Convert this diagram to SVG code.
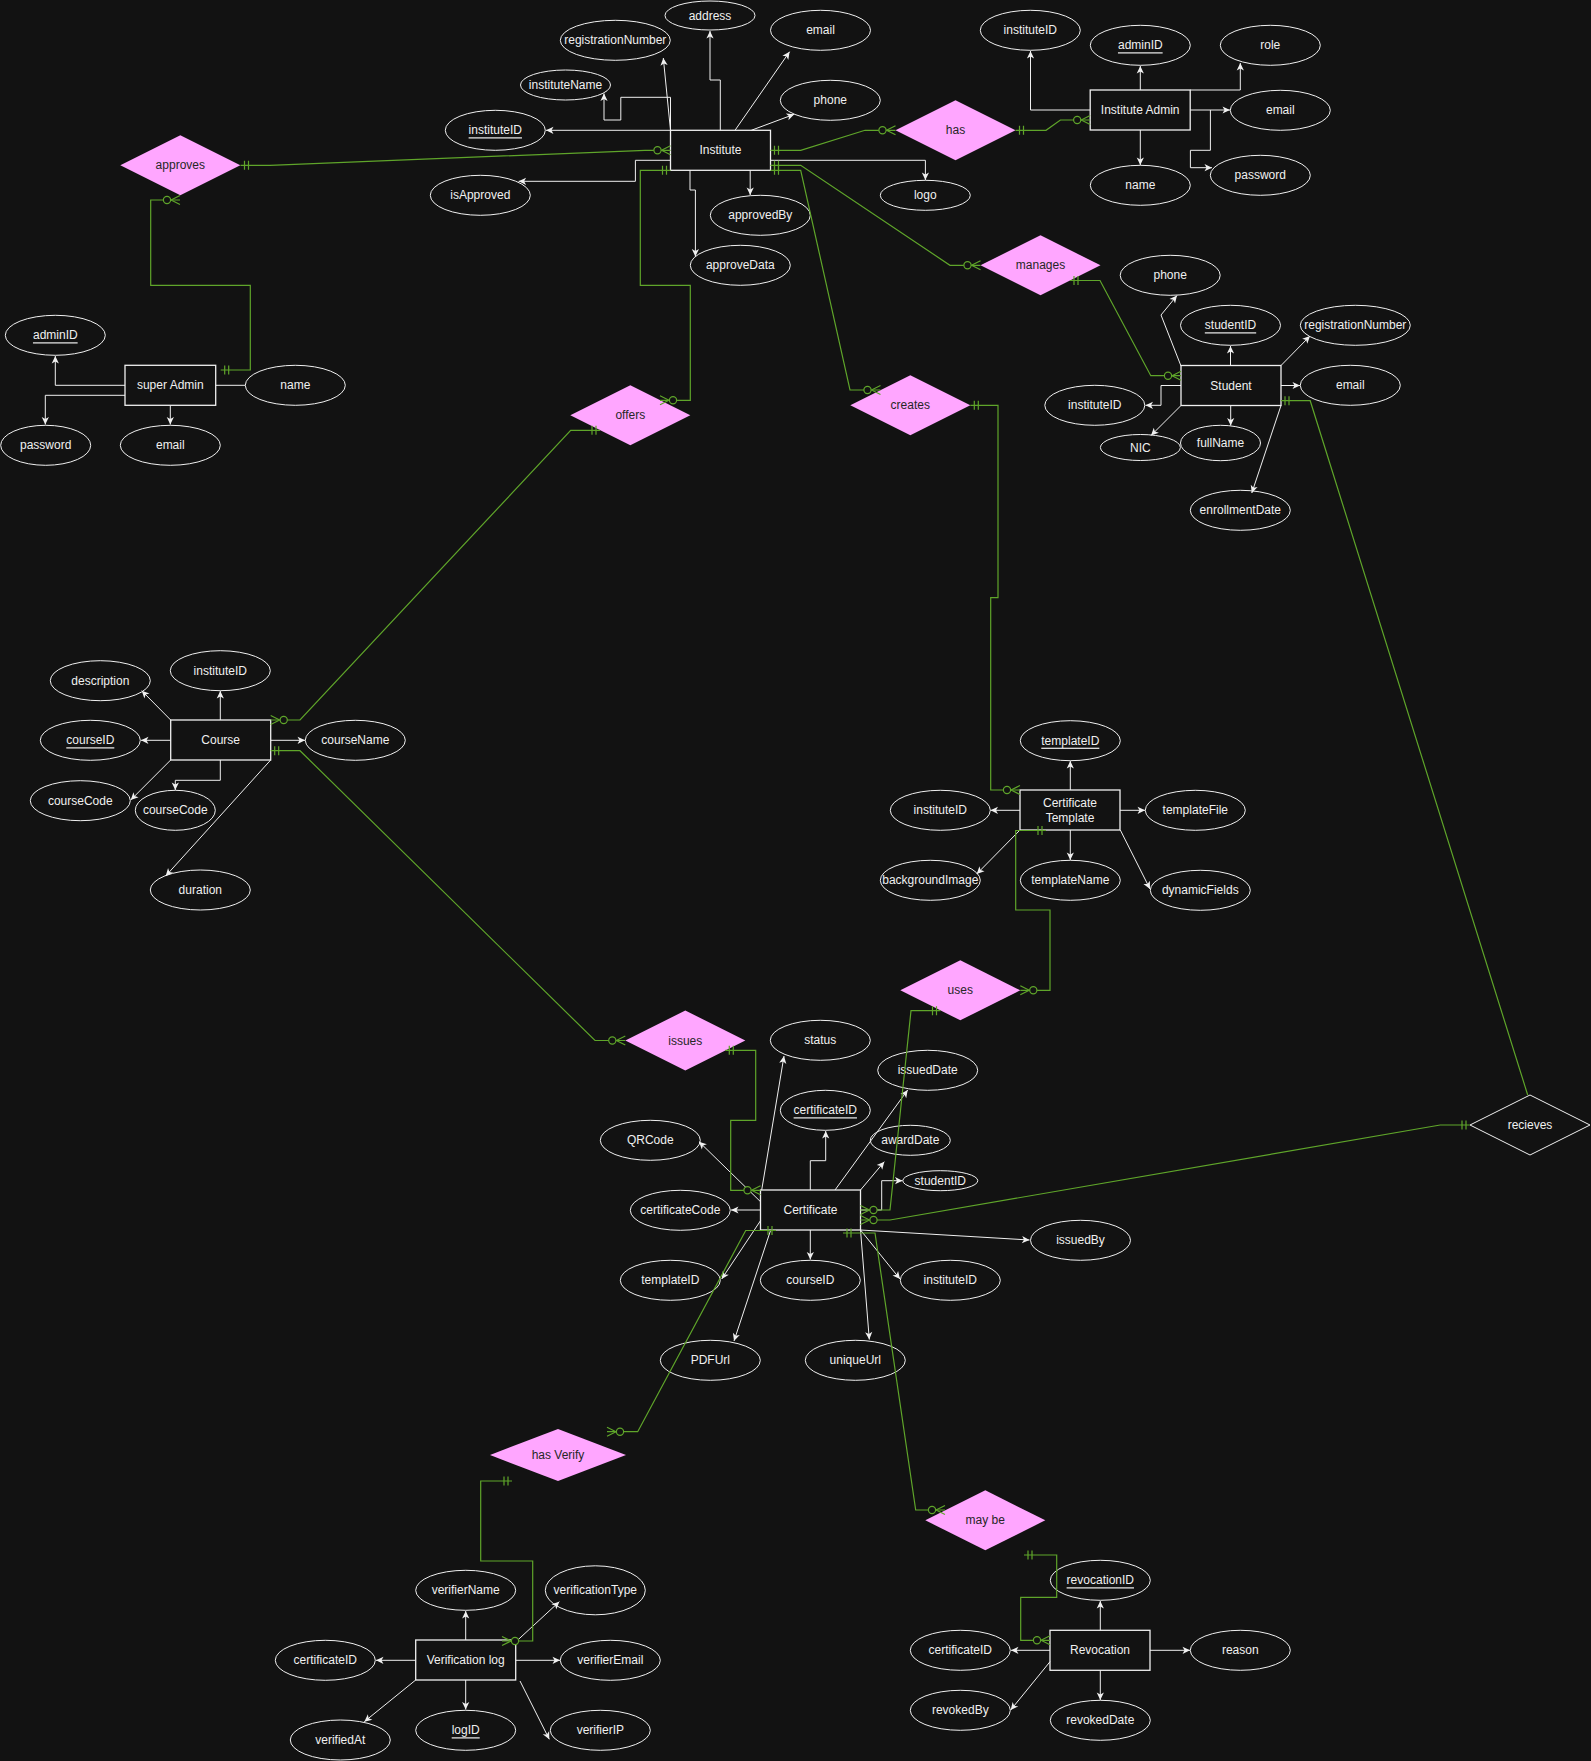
<svg xmlns="http://www.w3.org/2000/svg" width="1591" height="1761" viewBox="0 0 1591 1761">
<style>
.bg{fill:#121212}
.att ellipse{fill:#121212;stroke:#f0f0f0;stroke-width:1}
.ent rect{fill:#121212;stroke:#f0f0f0;stroke-width:1.3}
.rel polygon{fill:#ffa6ff;stroke:none}
.relw polygon{fill:#121212;stroke:#f0f0f0;stroke-width:1}
text{font-family:"Liberation Sans",Arial,Helvetica,sans-serif;font-size:12px;text-anchor:middle;dominant-baseline:central}
.att text,.ent text,.relw text{fill:#f0f0f0}
.rel text{fill:#262626}
.u{text-decoration:underline}
.a{fill:none;stroke:#f0f0f0;stroke-width:1;marker-end:url(#arrow)}
.n{fill:none;stroke:#f0f0f0;stroke-width:1}
.r{fill:none;stroke:#5fa52a;stroke-width:1.2;marker-start:url(#one);marker-end:url(#many)}
.r1{fill:none;stroke:#5fa52a;stroke-width:1.2;marker-start:url(#one)}
</style>
<defs>
<marker id="arrow" markerUnits="userSpaceOnUse" markerWidth="10" markerHeight="10" orient="auto" style="overflow:visible">
<path d="M0,0 L-7.5,-3.6 L-5.5,0 L-7.5,3.6 Z" fill="#f0f0f0" stroke="none"/>
</marker>
<marker id="one" markerUnits="userSpaceOnUse" markerWidth="10" markerHeight="10" orient="auto-start-reverse" style="overflow:visible">
<path d="M-4,-4.5 V4.5 M-8,-4.5 V4.5" stroke="#5fa52a" stroke-width="1.2" fill="none"/>
</marker>
<marker id="many" markerUnits="userSpaceOnUse" markerWidth="10" markerHeight="10" orient="auto" style="overflow:visible">
<path d="M-9,0 L0,-4.5 M-9,0 L0,4.5" stroke="#5fa52a" stroke-width="1.2" fill="none"/>
<circle cx="-13" cy="0" r="3.6" fill="#121212" stroke="#5fa52a" stroke-width="1.2"/>
</marker>
</defs>
<rect class="bg" x="0" y="0" width="1591" height="1761"/>

<!-- Entities -->
<g id="ent-institute" class="ent"><rect x="670.5" y="130.3" width="100" height="40"/><text x="720.5" y="150.3">Institute</text></g>
<g id="ent-institute-admin" class="ent"><rect x="1090.2" y="90" width="100" height="40"/><text x="1140.2" y="110">Institute Admin</text></g>
<g id="ent-super-admin" class="ent"><rect x="125" y="365.3" width="90.7" height="40"/><text x="170.3" y="385.3">super Admin</text></g>
<g id="ent-student" class="ent"><rect x="1181" y="365.5" width="100" height="40"/><text x="1231" y="385.5">Student</text></g>
<g id="ent-course" class="ent"><rect x="170.7" y="720" width="100" height="40"/><text x="220.7" y="740">Course</text></g>
<g id="ent-template" class="ent"><rect x="1020" y="790" width="100" height="40"/><text x="1070" y="803">Certificate</text><text x="1070" y="817.5">Template</text></g>
<g id="ent-certificate" class="ent"><rect x="760.5" y="1190" width="100" height="40"/><text x="810.5" y="1210">Certificate</text></g>
<g id="ent-verification-log" class="ent"><rect x="415.7" y="1640" width="100" height="40"/><text x="465.7" y="1660">Verification log</text></g>
<g id="ent-revocation" class="ent"><rect x="1050" y="1630.3" width="100" height="40"/><text x="1100" y="1650.3">Revocation</text></g>

<!-- Relationships -->
<g id="rel-approves" class="rel"><polygon points="120.3,165.3 180.3,135.3 240.3,165.3 180.3,195.3"/><text x="180.3" y="165.3">approves</text></g>
<g id="rel-has" class="rel"><polygon points="895.5,130.3 955.5,100.3 1015.5,130.3 955.5,160.3"/><text x="955.5" y="130.3">has</text></g>
<g id="rel-manages" class="rel"><polygon points="980.5,265.3 1040.5,235.3 1100.5,265.3 1040.5,295.3"/><text x="1040.5" y="265.3">manages</text></g>
<g id="rel-creates" class="rel"><polygon points="850.3,405.3 910.3,375.3 970.3,405.3 910.3,435.3"/><text x="910.3" y="405.3">creates</text></g>
<g id="rel-offers" class="rel"><polygon points="570.3,415.3 630.3,385.3 690.3,415.3 630.3,445.3"/><text x="630.3" y="415.3">offers</text></g>
<g id="rel-uses" class="rel"><polygon points="900.3,990.3 960.3,960.3 1020.3,990.3 960.3,1020.3"/><text x="960.3" y="990.3">uses</text></g>
<g id="rel-issues" class="rel"><polygon points="625.3,1040.5 685.3,1010.5 745.3,1040.5 685.3,1070.5"/><text x="685.3" y="1040.5">issues</text></g>
<g id="rel-recieves" class="relw"><polygon points="1470,1125 1530,1095 1590,1125 1530,1155"/><text x="1530" y="1125">recieves</text></g>
<g id="rel-has-verify" class="rel"><polygon points="490,1455 558,1429 626,1455 558,1481"/><text x="558" y="1455">has Verify</text></g>
<g id="rel-may-be" class="rel"><polygon points="925.3,1520.3 985.3,1490.3 1045.3,1520.3 985.3,1550.3"/><text x="985.3" y="1520.3">may be</text></g>

<!-- Attributes: Institute -->
<g id="att-institute-instituteID" class="att"><ellipse cx="495.3" cy="130.3" rx="50" ry="20"/><text class="u" x="495.3" y="130.3">instituteID</text></g>
<g id="att-institute-instituteName" class="att"><ellipse cx="565.5" cy="85" rx="45" ry="15"/><text x="565.5" y="85">instituteName</text></g>
<g id="att-institute-registrationNumber" class="att"><ellipse cx="615.3" cy="40.3" rx="55" ry="20"/><text x="615.3" y="40.3">registrationNumber</text></g>
<g id="att-institute-address" class="att"><ellipse cx="710" cy="15.5" rx="45" ry="14.5"/><text x="710" y="15.5">address</text></g>
<g id="att-institute-email" class="att"><ellipse cx="820.5" cy="30.3" rx="50" ry="20"/><text x="820.5" y="30.3">email</text></g>
<g id="att-institute-phone" class="att"><ellipse cx="830.3" cy="100.3" rx="50" ry="20"/><text x="830.3" y="100.3">phone</text></g>
<g id="att-institute-logo" class="att"><ellipse cx="925.3" cy="195.3" rx="45" ry="15"/><text x="925.3" y="195.3">logo</text></g>
<g id="att-institute-isApproved" class="att"><ellipse cx="480.3" cy="195.3" rx="50" ry="20"/><text x="480.3" y="195.3">isApproved</text></g>
<g id="att-institute-approvedBy" class="att"><ellipse cx="760.3" cy="215.3" rx="50" ry="20"/><text x="760.3" y="215.3">approvedBy</text></g>
<g id="att-institute-approveData" class="att"><ellipse cx="740.3" cy="265.3" rx="50" ry="20"/><text x="740.3" y="265.3">approveData</text></g>

<!-- Attributes: Institute Admin -->
<g id="att-iadmin-instituteID" class="att"><ellipse cx="1030.3" cy="30.3" rx="50" ry="20"/><text x="1030.3" y="30.3">instituteID</text></g>
<g id="att-iadmin-adminID" class="att"><ellipse cx="1140.3" cy="45.3" rx="50" ry="20"/><text class="u" x="1140.3" y="45.3">adminID</text></g>
<g id="att-iadmin-role" class="att"><ellipse cx="1270.3" cy="45.3" rx="50" ry="20"/><text x="1270.3" y="45.3">role</text></g>
<g id="att-iadmin-email" class="att"><ellipse cx="1280.3" cy="110.3" rx="50" ry="20"/><text x="1280.3" y="110.3">email</text></g>
<g id="att-iadmin-password" class="att"><ellipse cx="1260.3" cy="175.3" rx="50" ry="20"/><text x="1260.3" y="175.3">password</text></g>
<g id="att-iadmin-name" class="att"><ellipse cx="1140.3" cy="185.3" rx="50" ry="20"/><text x="1140.3" y="185.3">name</text></g>

<!-- Attributes: super Admin -->
<g id="att-sadmin-adminID" class="att"><ellipse cx="55.3" cy="335.3" rx="50" ry="20"/><text class="u" x="55.3" y="335.3">adminID</text></g>
<g id="att-sadmin-name" class="att"><ellipse cx="295.3" cy="385.3" rx="50" ry="20"/><text x="295.3" y="385.3">name</text></g>
<g id="att-sadmin-password" class="att"><ellipse cx="45.7" cy="445.3" rx="45" ry="20"/><text x="45.7" y="445.3">password</text></g>
<g id="att-sadmin-email" class="att"><ellipse cx="170.3" cy="445.3" rx="50" ry="20"/><text x="170.3" y="445.3">email</text></g>

<!-- Attributes: Student -->
<g id="att-student-phone" class="att"><ellipse cx="1170.2" cy="275.3" rx="50" ry="20"/><text x="1170.2" y="275.3">phone</text></g>
<g id="att-student-studentID" class="att"><ellipse cx="1230.5" cy="325.3" rx="50" ry="20"/><text class="u" x="1230.5" y="325.3">studentID</text></g>
<g id="att-student-registrationNumber" class="att"><ellipse cx="1355.3" cy="325.3" rx="55" ry="20"/><text x="1355.3" y="325.3">registrationNumber</text></g>
<g id="att-student-email" class="att"><ellipse cx="1350.3" cy="385.3" rx="50" ry="20"/><text x="1350.3" y="385.3">email</text></g>
<g id="att-student-instituteID" class="att"><ellipse cx="1094.8" cy="405.3" rx="50" ry="20"/><text x="1094.8" y="405.3">instituteID</text></g>
<g id="att-student-NIC" class="att"><ellipse cx="1140.4" cy="447.5" rx="40" ry="13"/><text x="1140.4" y="447.5">NIC</text></g>
<g id="att-student-fullName" class="att"><ellipse cx="1220.5" cy="443" rx="40" ry="17.7"/><text x="1220.5" y="443">fullName</text></g>
<g id="att-student-enrollmentDate" class="att"><ellipse cx="1240.3" cy="510.3" rx="50" ry="20"/><text x="1240.3" y="510.3">enrollmentDate</text></g>

<!-- Attributes: Course -->
<g id="att-course-description" class="att"><ellipse cx="100.3" cy="680.7" rx="50" ry="20"/><text x="100.3" y="680.7">description</text></g>
<g id="att-course-instituteID" class="att"><ellipse cx="220.3" cy="670.7" rx="50" ry="20"/><text x="220.3" y="670.7">instituteID</text></g>
<g id="att-course-courseID" class="att"><ellipse cx="90.3" cy="740.3" rx="50" ry="20"/><text class="u" x="90.3" y="740.3">courseID</text></g>
<g id="att-course-courseName" class="att"><ellipse cx="355.3" cy="740.3" rx="50" ry="20"/><text x="355.3" y="740.3">courseName</text></g>
<g id="att-course-courseCode-1" class="att"><ellipse cx="80.3" cy="800.7" rx="50" ry="20"/><text x="80.3" y="800.7">courseCode</text></g>
<g id="att-course-courseCode-2" class="att"><ellipse cx="175.3" cy="810.3" rx="40" ry="20"/><text x="175.3" y="810.3">courseCode</text></g>
<g id="att-course-duration" class="att"><ellipse cx="200.3" cy="890" rx="50" ry="20"/><text x="200.3" y="890">duration</text></g>

<!-- Attributes: Certificate Template -->
<g id="att-template-templateID" class="att"><ellipse cx="1070.3" cy="740.7" rx="50" ry="20"/><text class="u" x="1070.3" y="740.7">templateID</text></g>
<g id="att-template-instituteID" class="att"><ellipse cx="940.3" cy="810.3" rx="50" ry="20"/><text x="940.3" y="810.3">instituteID</text></g>
<g id="att-template-templateFile" class="att"><ellipse cx="1195.3" cy="810.3" rx="50" ry="20"/><text x="1195.3" y="810.3">templateFile</text></g>
<g id="att-template-backgroundImage" class="att"><ellipse cx="930.3" cy="880.3" rx="50" ry="20"/><text x="930.3" y="880.3">backgroundImage</text></g>
<g id="att-template-templateName" class="att"><ellipse cx="1070.3" cy="880.3" rx="50" ry="20"/><text x="1070.3" y="880.3">templateName</text></g>
<g id="att-template-dynamicFields" class="att"><ellipse cx="1200.3" cy="890.3" rx="50" ry="20"/><text x="1200.3" y="890.3">dynamicFields</text></g>

<!-- Attributes: Certificate -->
<g id="att-cert-status" class="att"><ellipse cx="820.3" cy="1040.3" rx="50" ry="20"/><text x="820.3" y="1040.3">status</text></g>
<g id="att-cert-issuedDate" class="att"><ellipse cx="927.7" cy="1070.3" rx="50" ry="20"/><text x="927.7" y="1070.3">issuedDate</text></g>
<g id="att-cert-certificateID" class="att"><ellipse cx="825.3" cy="1110.3" rx="45" ry="20"/><text class="u" x="825.3" y="1110.3">certificateID</text></g>
<g id="att-cert-awardDate" class="att"><ellipse cx="910.3" cy="1140.3" rx="40" ry="15"/><text x="910.3" y="1140.3">awardDate</text></g>
<g id="att-cert-studentID" class="att"><ellipse cx="940.3" cy="1180.7" rx="37.5" ry="10"/><text x="940.3" y="1180.7">studentID</text></g>
<g id="att-cert-QRCode" class="att"><ellipse cx="650.3" cy="1140.3" rx="50" ry="20"/><text x="650.3" y="1140.3">QRCode</text></g>
<g id="att-cert-certificateCode" class="att"><ellipse cx="680.3" cy="1210.3" rx="50" ry="20"/><text x="680.3" y="1210.3">certificateCode</text></g>
<g id="att-cert-issuedBy" class="att"><ellipse cx="1080.5" cy="1240.3" rx="50" ry="20"/><text x="1080.5" y="1240.3">issuedBy</text></g>
<g id="att-cert-templateID" class="att"><ellipse cx="670.3" cy="1280.3" rx="50" ry="20"/><text x="670.3" y="1280.3">templateID</text></g>
<g id="att-cert-courseID" class="att"><ellipse cx="810.3" cy="1280.3" rx="50" ry="20"/><text x="810.3" y="1280.3">courseID</text></g>
<g id="att-cert-instituteID" class="att"><ellipse cx="950.3" cy="1280.3" rx="50" ry="20"/><text x="950.3" y="1280.3">instituteID</text></g>
<g id="att-cert-PDFUrl" class="att"><ellipse cx="710.3" cy="1360.3" rx="50" ry="20"/><text x="710.3" y="1360.3">PDFUrl</text></g>
<g id="att-cert-uniqueUrl" class="att"><ellipse cx="855.3" cy="1360.3" rx="50" ry="20"/><text x="855.3" y="1360.3">uniqueUrl</text></g>

<!-- Attributes: Verification log -->
<g id="att-ver-verifierName" class="att"><ellipse cx="465.7" cy="1590.3" rx="50" ry="20"/><text x="465.7" y="1590.3">verifierName</text></g>
<g id="att-ver-verificationType" class="att"><ellipse cx="595.3" cy="1590.3" rx="50" ry="24.5"/><text x="595.3" y="1590.3">verificationType</text></g>
<g id="att-ver-certificateID" class="att"><ellipse cx="325.3" cy="1660.3" rx="50" ry="20"/><text x="325.3" y="1660.3">certificateID</text></g>
<g id="att-ver-verifierEmail" class="att"><ellipse cx="610.3" cy="1660.3" rx="50" ry="20"/><text x="610.3" y="1660.3">verifierEmail</text></g>
<g id="att-ver-verifiedAt" class="att"><ellipse cx="340.3" cy="1740" rx="50" ry="20"/><text x="340.3" y="1740">verifiedAt</text></g>
<g id="att-ver-logID" class="att"><ellipse cx="465.7" cy="1730.3" rx="50" ry="20"/><text class="u" x="465.7" y="1730.3">logID</text></g>
<g id="att-ver-verifierIP" class="att"><ellipse cx="600.3" cy="1730.3" rx="50" ry="20"/><text x="600.3" y="1730.3">verifierIP</text></g>

<!-- Attributes: Revocation -->
<g id="att-rev-revocationID" class="att"><ellipse cx="1100.3" cy="1580.3" rx="50" ry="20"/><text class="u" x="1100.3" y="1580.3">revocationID</text></g>
<g id="att-rev-certificateID" class="att"><ellipse cx="960.3" cy="1650.3" rx="50" ry="20"/><text x="960.3" y="1650.3">certificateID</text></g>
<g id="att-rev-reason" class="att"><ellipse cx="1240.3" cy="1650.3" rx="50" ry="20"/><text x="1240.3" y="1650.3">reason</text></g>
<g id="att-rev-revokedBy" class="att"><ellipse cx="960.3" cy="1710.3" rx="50" ry="20"/><text x="960.3" y="1710.3">revokedBy</text></g>
<g id="att-rev-revokedDate" class="att"><ellipse cx="1100.3" cy="1720.3" rx="50" ry="20"/><text x="1100.3" y="1720.3">revokedDate</text></g>

<!-- Connectors -->
<g id="connectors">
<!-- Institute attributes -->
<path class="a" d="M670.5,130.3 H546"/>
<path class="a" d="M670.5,130.3 V97.3 H620.8 V120 H604 V93.5"/>
<path class="a" d="M670.5,130.3 L663.3,58"/>
<path class="a" d="M720.3,130.3 V80 H710 V31"/>
<path class="a" d="M735,130.3 L789.6,51.7"/>
<path class="a" d="M751.3,130.3 L794.2,114.3"/>
<path class="a" d="M770.5,160.3 H925.4 V180"/>
<path class="a" d="M670.5,160.3 H635.4 V181.3 H518.6"/>
<path class="a" d="M750.2,170.3 V195"/>
<path class="a" d="M690,170.3 V190 H695.4 V256.5"/>
<!-- Institute Admin attributes -->
<path class="a" d="M1090.2,110 H1030.5 V51"/>
<path class="a" d="M1140.3,90 V66"/>
<path class="a" d="M1190.2,90 H1240.3 V63"/>
<path class="a" d="M1190.2,110 H1230"/>
<path class="a" d="M1210.4,110 V150.3 H1190.4 V167.7 H1212"/>
<path class="a" d="M1140.3,130 V165"/>
<!-- super Admin attributes -->
<path class="a" d="M125,385.3 H55.3 V356"/>
<path class="a" d="M125,395.3 H45.3 V424.5"/>
<path class="a" d="M170.3,405.3 V424.5"/>
<path class="n" d="M215.7,385.3 H245"/>
<!-- Student attributes -->
<path class="a" d="M1181,366 L1161,315 L1177,295.5"/>
<path class="a" d="M1230.5,365.5 V346"/>
<path class="a" d="M1281,365.5 L1310,336"/>
<path class="a" d="M1281,385.5 H1300"/>
<path class="a" d="M1181,385.5 H1161 V405.3 H1145.5"/>
<path class="a" d="M1181,405.5 L1151,435.5"/>
<path class="a" d="M1230.7,405.5 V425.5"/>
<path class="a" d="M1281,405.5 L1251.8,493"/>
<!-- Course attributes -->
<path class="a" d="M170.7,720 L141.7,690.7"/>
<path class="a" d="M220.3,720 V691"/>
<path class="a" d="M170.7,740.3 H141"/>
<path class="a" d="M270.7,740.3 H305"/>
<path class="a" d="M170.7,760 L130.7,800"/>
<path class="a" d="M220.3,760 V780.3 H175.3 V790"/>
<path class="a" d="M270.7,760 L165.7,876"/>
<!-- Template attributes -->
<path class="a" d="M1070.3,790 V761"/>
<path class="a" d="M1020,810.3 H990.5"/>
<path class="a" d="M1120,810.3 H1145"/>
<path class="a" d="M1020,830 L976.7,874"/>
<path class="a" d="M1070.3,830 V860"/>
<path class="a" d="M1120.3,830 L1150,889"/>
<!-- Certificate attributes -->
<path class="a" d="M761.7,1190 L784,1056"/>
<path class="a" d="M810.3,1190 V1160.7 H825.7 V1131"/>
<path class="a" d="M835,1190 L907.7,1090"/>
<path class="a" d="M860.5,1190 L884.3,1161.7"/>
<path class="a" d="M860.5,1210 H881.7 V1180.7 H902.5"/>
<path class="a" d="M760.5,1201.7 L699,1141.7"/>
<path class="a" d="M760.5,1210 H731"/>
<path class="a" d="M760.5,1220.7 L721.7,1279"/>
<path class="a" d="M770.7,1230 L734,1341"/>
<path class="a" d="M810.3,1230 V1259.5"/>
<path class="a" d="M860.5,1230 L869.3,1339.5"/>
<path class="a" d="M860.5,1230 L900,1279"/>
<path class="a" d="M860.5,1230 L1029.5,1240"/>
<!-- Verification log attributes -->
<path class="a" d="M465.7,1640 V1611"/>
<path class="a" d="M516.7,1641 L559.3,1601.7"/>
<path class="a" d="M415.7,1660.3 H376"/>
<path class="a" d="M515.7,1660.3 H560"/>
<path class="a" d="M415.7,1680 L364.3,1721.7"/>
<path class="a" d="M465.7,1680 V1709.5"/>
<path class="a" d="M520,1681 L549.3,1739.3"/>
<!-- Revocation attributes -->
<path class="a" d="M1100.3,1630.3 V1601"/>
<path class="a" d="M1050,1650.3 H1011"/>
<path class="a" d="M1150,1650.3 H1190"/>
<path class="a" d="M1050,1661.7 L1010.7,1710"/>
<path class="a" d="M1100.3,1670.3 V1700"/>

<!-- Relationship lines -->
<path class="r" d="M240.5,165.3 H270 L645,150.3 H670.5"/>
<path class="r" d="M220.7,370 H250.3 V285.3 H150.7 V200 H180"/>
<path class="r" d="M770.5,150.3 H800.7 L865,130.3 H895.5"/>
<path class="r" d="M1015.5,130.3 H1046 L1060.4,120 H1090.2"/>
<path class="r" d="M770.5,165.3 H800.7 L950,265.3 H980.5"/>
<path class="r" d="M1070,280.5 H1100 L1150.8,375.7 H1181"/>
<path class="r" d="M770.5,170.3 H800.7 L850,390 H880.5"/>
<path class="r" d="M970.3,405.3 H998 V597.7 H990.7 V790 H1020"/>
<path class="r" d="M670.5,170.3 H640.3 V285.3 H690.3 V400.3 H660"/>
<path class="r" d="M600,430.3 H570.7 L300,720 H270.7"/>
<path class="r" d="M270.7,750.7 H300 L595,1040.5 H625.3"/>
<path class="r" d="M725.3,1050.3 H755.7 V1120.3 H730.7 V1190.3 H760.5"/>
<path class="r" d="M1046,830.5 H1015.7 V910 H1050 V990.3 H1020.3"/>
<path class="r" d="M940.5,1010.7 H911 L890,1210 H860.5"/>
<path class="r1" d="M1281,400.7 H1310.2 L1527.7,1095"/>
<path class="r" d="M1470,1125 H1440.2 L890,1220 H860.5"/>
<path class="r" d="M776,1230.5 H745.7 L637.7,1431.7 H607"/>
<path class="r" d="M512,1481 H480.7 V1561 H532.7 V1641 H502"/>
<path class="r" d="M843,1233 H875 L915.7,1510 H945"/>
<path class="r" d="M1024,1555 H1056.7 V1597.3 H1020.7 V1640.3 H1050"/>
</g>
</svg>
